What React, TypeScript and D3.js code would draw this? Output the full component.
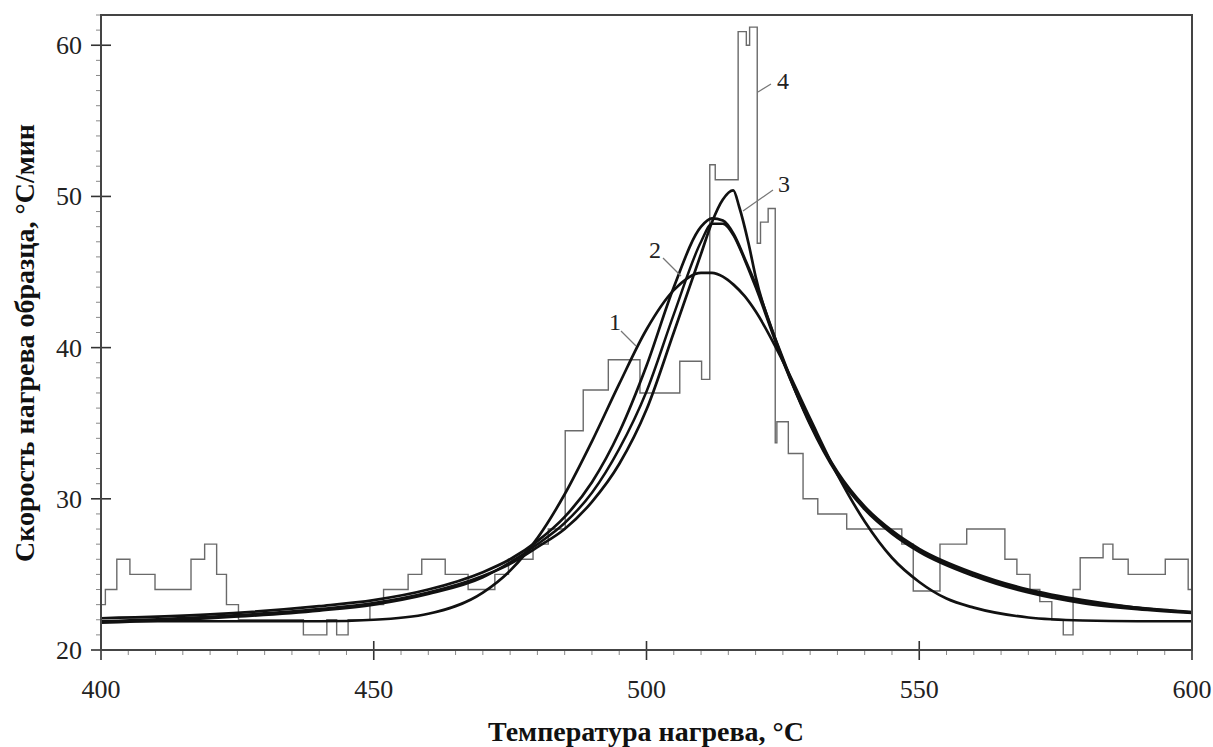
import React from "react";
import * as d3 from "d3";

const W = 1213;
const H = 747;

const xTicks = [400, 450, 500, 550, 600];
const yTicks = [20, 30, 40, 50, 60];

// Curve 4: measured (stepped) heating rate — step start temperature and value
const stepT = [400, 400.8, 402.9, 405.3, 409.9, 416.5, 419.0, 421.2, 423.0, 425.2, 437.1, 441.4, 443.2, 445.3, 449.3, 451.8, 456.3, 458.8, 463.1, 467.3, 472.2, 474.7, 479.2, 482.0, 485.1, 488.4, 493.0, 498.8, 506.1, 510.1, 511.6, 512.6, 516.8, 518.3, 518.9, 520.3, 520.9, 522.3, 523.6, 523.9, 526.0, 528.7, 531.4, 536.7, 546.8, 548.9, 553.8, 558.7, 565.7, 567.9, 570.3, 572.1, 574.3, 576.4, 578.2, 579.5, 583.7, 585.5, 588.3, 595.1, 599.3, 600];
const stepV = [23, 24, 26, 25, 24, 26, 27, 25, 23, 22, 21, 22, 21, 22, 23, 24, 25, 26, 25, 24, 25, 26, 27, 28, 34.5, 37.2, 39.2, 37.0, 39.1, 37.9, 52.1, 51.1, 60.9, 60.0, 61.2, 46.9, 48.3, 49.2, 33.7, 35.1, 33.0, 30.0, 29.0, 28.0, 27.0, 23.9, 27.0, 28.0, 26.0, 25.0, 24.0, 23.2, 22.0, 21.0, 24.0, 26.1, 27.0, 26.0, 25.0, 26.0, 24.0, 24.0];

// Curve 1 (narrow tails, peak ~45)
const c1T = [400, 420, 440, 450, 460, 470, 475, 480, 485, 490, 495, 500, 505, 510, 512, 514, 516, 518, 520, 525, 530, 535, 540, 545, 550, 555, 560, 570, 580, 590, 600];
const c1V = [21.9, 21.9, 21.9, 22.0, 22.4, 23.8, 25.25, 27.4, 30.3, 33.8, 37.6, 41.2, 43.8, 44.95, 44.95, 44.7, 44.15, 43.4, 42.4, 39.1, 35.3, 31.6, 28.5, 26.1, 24.5, 23.4, 22.8, 22.15, 21.95, 21.9, 21.9];

// Curve 2 (peak ~48.6)
const c2T = [400, 420, 440, 450, 460, 470, 475, 480, 485, 490, 495, 500, 505, 510, 512, 514, 516, 518, 520, 525, 530, 535, 540, 545, 550, 560, 570, 580, 590, 600];
const c2V = [22.1, 22.35, 22.9, 23.3, 24.0, 25.15, 26.0, 27.2, 28.8, 31.1, 34.4, 38.8, 44.0, 48.0, 48.55, 48.4, 47.5, 45.9, 44.2, 39.2, 34.9, 31.6, 29.3, 27.7, 26.5, 24.9, 23.8, 23.1, 22.7, 22.45];

// Curve 3 (sharp peak ~50.4)
const c3T = [400, 420, 440, 450, 460, 470, 475, 480, 485, 490, 495, 500, 505, 510, 512, 514, 515.9, 517, 518.7, 520, 525, 530, 535, 540, 545, 550, 560, 570, 580, 590, 600];
const c3V = [21.9, 22.2, 22.7, 23.1, 23.8, 24.9, 25.7, 26.8, 28.0, 29.8, 32.3, 35.9, 41.0, 46.2, 48.3, 49.8, 50.4, 49.3, 46.9, 44.7, 39.3, 35.0, 31.7, 29.4, 27.8, 26.6, 25.0, 23.9, 23.2, 22.8, 22.5];

// Additional fitted curve (between curves 2 and 3)
const c5T = [400, 420, 440, 450, 460, 470, 475, 480, 485, 490, 495, 500, 505, 510, 512, 514, 516, 518, 520, 525, 530, 535, 540, 545, 550, 560, 570, 580, 590, 600];
const c5V = [21.8, 22.1, 22.6, 23.0, 23.7, 24.8, 25.8, 27.0, 28.4, 30.4, 33.3, 37.1, 42.2, 47.0, 48.2, 48.2, 47.4, 45.8, 44.0, 39.1, 35.0, 31.8, 29.5, 27.9, 26.7, 25.1, 24.0, 23.3, 22.8, 22.5];

const labels = [
  { text: "1", x: 615, y: 330, lx1: 621, ly1: 331, lx2: 636, ly2: 346 },
  { text: "2", x: 655, y: 258, lx1: 663, ly1: 258, lx2: 681, ly2: 276 },
  { text: "3", x: 784, y: 192, lx1: 773, ly1: 190, lx2: 743, ly2: 211 },
  { text: "4", x: 783, y: 89, lx1: 771, ly1: 84, lx2: 758, ly2: 92 },
];

export default function App() {
  const x = d3.scaleLinear().domain([400, 600]).range([101, 1192]);
  const y = d3.scaleLinear().domain([20, 62]).range([650, 15]);

  const smooth = d3
    .line<[number, number]>()
    .x((d) => x(d[0]))
    .y((d) => y(d[1]))
    .curve(d3.curveMonotoneX);

  const stepLine = d3
    .line<[number, number]>()
    .x((d) => x(d[0]))
    .y((d) => y(d[1]))
    .curve(d3.curveStepAfter);

  const zip = (a: number[], b: number[]) => a.map((t, i) => [t, b[i]] as [number, number]);

  const xMinor = d3.range(400, 600.01, 5).filter((v) => v % 50 !== 0);
  const yMinor = d3.range(20, 62.01, 1).filter((v) => v % 10 !== 0);

  const font = "'Liberation Serif', 'Times New Roman', serif";

  return (
    <svg width={W} height={H} style={{ position: "absolute", left: 0, top: 0, background: "#fff" }}>
      <rect x={0} y={0} width={W} height={H} fill="#fff" />
      {/* minor ticks */}
      {xMinor.map((v) => (
        <line key={"xm" + v} x1={x(v)} x2={x(v)} y1={650} y2={655} stroke="#888" strokeWidth={1} />
      ))}
      {yMinor.map((v) => (
        <line key={"ym" + v} x1={96} x2={101} y1={y(v)} y2={y(v)} stroke="#888" strokeWidth={1} />
      ))}
      {/* major ticks */}
      {xTicks.map((v) => (
        <line key={"xM" + v} x1={x(v)} x2={x(v)} y1={641} y2={660} stroke="#333" strokeWidth={1.6} />
      ))}
      {yTicks.map((v) => (
        <line key={"yM" + v} x1={91} x2={111} y1={y(v)} y2={y(v)} stroke="#333" strokeWidth={1.6} />
      ))}

      {/* step curve 4 */}
      <path d={stepLine(zip(stepT, stepV)) || ""} fill="none" stroke="#6a6a6a" strokeWidth={1.4} />

      {/* smooth curves */}
      <path d={smooth(zip(c1T, c1V)) || ""} fill="none" stroke="#111" strokeWidth={2.7} />
      <path d={smooth(zip(c2T, c2V)) || ""} fill="none" stroke="#111" strokeWidth={2.7} />
      <path d={smooth(zip(c5T, c5V)) || ""} fill="none" stroke="#111" strokeWidth={2.5} />
      <path d={smooth(zip(c3T, c3V)) || ""} fill="none" stroke="#111" strokeWidth={2.7} />

      {/* frame */}
      <rect x={101} y={15} width={1091} height={635} fill="none" stroke="#444" strokeWidth={2} />

      {/* labels */}
      {labels.map((l) => (
        <g key={l.text}>
          <line x1={l.lx1} y1={l.ly1} x2={l.lx2} y2={l.ly2} stroke="#777" strokeWidth={1.2} />
          <text x={l.x} y={l.y} fontFamily={font} fontSize={24} textAnchor="middle" fill="#222">
            {l.text}
          </text>
        </g>
      ))}

      {/* tick labels */}
      {xTicks.map((v) => (
        <text key={"xl" + v} x={x(v)} y={698} fontFamily={font} fontSize={26} textAnchor="middle" fill="#222">
          {v}
        </text>
      ))}
      {yTicks.map((v) => (
        <text key={"yl" + v} x={82} y={y(v) + 9} fontFamily={font} fontSize={26} textAnchor="end" fill="#222">
          {v}
        </text>
      ))}

      {/* axis titles */}
      <text x={646} y={741} fontFamily={font} fontSize={28} fontWeight="bold" textAnchor="middle" fill="#111">
        Температура нагрева, °С
      </text>
      <text
        transform={`translate(34, 343) rotate(-90)`}
        fontFamily={font}
        fontSize={28}
        fontWeight="bold"
        textAnchor="middle"
        fill="#111"
      >
        Скорость нагрева образца, °С/мин
      </text>
    </svg>
  );
}
